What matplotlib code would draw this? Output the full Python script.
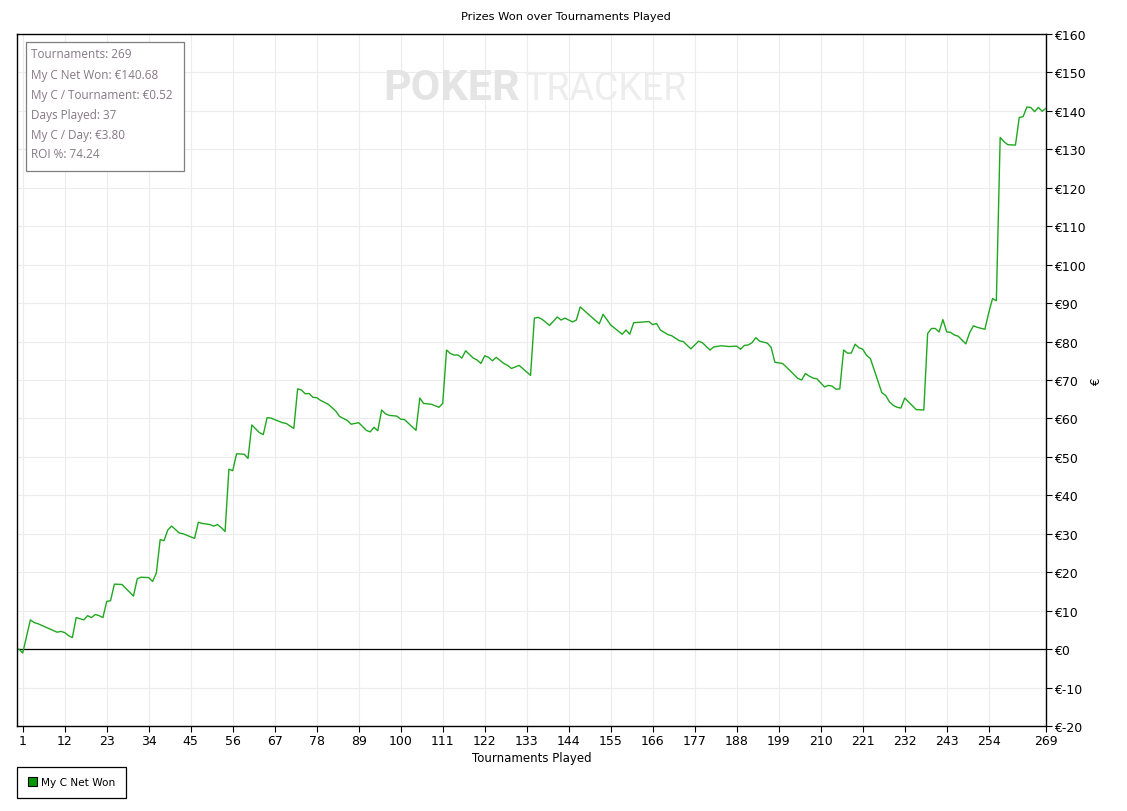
import numpy as np
import matplotlib
matplotlib.use("Agg")
import matplotlib.pyplot as plt
from matplotlib.patches import Rectangle, Patch

# tournament number / cumulative net won (EUR)
tourney = [0, 1, 3, 4, 5, 10, 11, 12, 13, 14, 15, 16, 17, 18, 19, 20, 21, 22, 23, 24,
           25, 27, 30, 31, 32, 34, 35, 36, 37, 38, 39, 40, 42, 43, 46, 47, 48, 50, 51, 52,
           53, 54, 55, 56, 57, 59, 60, 61, 63, 64, 65, 66, 69, 70, 72, 73, 74, 75, 76, 77,
           78, 79, 81, 83, 84, 86, 87, 89, 90, 91, 92, 93, 94, 95, 96, 97, 99, 100, 101, 104,
           105, 106, 108, 110, 111, 112, 113, 114, 115, 116, 117, 119, 120, 121, 122, 123, 124, 125, 127, 128,
           129, 131, 134, 135, 136, 137, 139, 141, 142, 143, 145, 146, 147, 152, 153, 155, 158, 159, 160, 161,
           165, 166, 167, 168, 170, 171, 173, 174, 176, 178, 179, 181, 182, 184, 186, 188, 189, 190, 191, 192,
           193, 194, 196, 197, 198, 200, 202, 204, 205, 206, 207, 208, 209, 211, 212, 213, 214, 215, 216, 217,
           218, 219, 220, 221, 222, 223, 226, 227, 228, 229, 230, 231, 232, 235, 237, 238, 239, 240, 241, 242,
           243, 244, 245, 246, 248, 249, 250, 251, 253, 254, 255, 256, 257, 258, 259, 261, 262, 263, 264, 265,
           266, 267, 268, 269]
net_won = [0.0, -1.0, 7.6, 6.9, 6.6, 4.4, 4.6, 4.3, 3.5, 3.0, 8.2, 7.9, 7.6, 8.7, 8.2, 9.0, 8.7, 8.2, 12.4, 12.6,
           16.9, 16.8, 13.8, 18.3, 18.7, 18.6, 17.6, 19.8, 28.5, 28.2, 31.0, 32.0, 30.2, 30.0, 28.8, 33.0, 32.7, 32.4, 32.0, 32.4,
           31.6, 30.6, 46.8, 46.4, 50.8, 50.7, 49.6, 58.3, 56.3, 55.8, 60.2, 60.1, 58.9, 58.7, 57.4, 67.7, 67.4, 66.4, 66.5, 65.5,
           65.4, 64.7, 63.7, 61.9, 60.5, 59.5, 58.5, 58.9, 57.9, 56.9, 56.5, 57.7, 56.8, 62.2, 61.2, 60.8, 60.6, 59.8, 59.7, 56.9,
           65.3, 63.9, 63.7, 62.9, 63.9, 77.8, 76.9, 76.5, 76.5, 75.7, 77.6, 75.7, 75.2, 74.3, 76.3, 75.9, 75.0, 75.9, 74.3, 73.8,
           73.0, 73.8, 71.2, 86.1, 86.3, 85.8, 84.2, 86.4, 85.6, 86.1, 85.1, 85.6, 89.0, 84.6, 87.1, 84.3, 81.9, 83.0, 81.9, 84.9,
           85.2, 84.4, 84.7, 83.0, 81.8, 81.5, 80.2, 80.0, 78.1, 80.1, 79.7, 77.8, 78.6, 78.9, 78.7, 78.8, 78.0, 79.0, 79.1, 79.7,
           81.0, 80.1, 79.6, 78.5, 74.6, 74.3, 72.4, 70.4, 70.0, 71.7, 71.0, 70.5, 70.3, 68.2, 68.6, 68.4, 67.6, 67.7, 77.8, 77.0,
           77.0, 79.3, 78.4, 78.0, 76.4, 75.6, 66.7, 66.0, 64.3, 63.4, 62.9, 62.7, 65.3, 62.3, 62.2, 82.1, 83.4, 83.4, 82.5, 85.7,
           82.5, 82.4, 81.7, 81.4, 79.4, 82.3, 84.1, 83.7, 83.2, 87.5, 91.2, 90.6, 133.1, 132.0, 131.2, 131.1, 138.3, 138.5, 141.0, 140.9,
           139.8, 140.9, 139.9, 140.68]

x_ticks = [1, 12, 23, 34, 45, 56, 67, 78, 89, 100, 111, 122, 133, 144, 155, 166, 177, 188, 199,
           210, 221, 232, 243, 254, 269]
y_ticks = list(range(-20, 161, 10))

stats_lines = ["Tournaments: 269", "My C Net Won: \u20ac140.68", "My C / Tournament: \u20ac0.52",
               "Days Played: 37", "My C / Day: \u20ac3.80", "ROI %: 74.24"]

W, H = 1127, 812
def fx(px):
    return px / W
def fy(py):
    return 1 - py / H

fig = plt.figure(figsize=(W / 100, H / 100), dpi=100)
ax = fig.add_axes([fx(17), fy(727), fx(1046) - fx(17), fy(35) - fy(727)])

ax.plot(tourney, net_won, color='#1fa81f', lw=1.0, zorder=3)
ax.axhline(0, color='black', lw=0.9, zorder=2)

ax.set_xlim(-0.5, 269)
ax.set_ylim(-20, 160)
ax.set_xticks(x_ticks)
ax.set_yticks(y_ticks)
ax.set_yticklabels(["\u20ac%d" % v for v in y_ticks])
ax.yaxis.tick_right()
ax.yaxis.set_label_position('right')
ax.tick_params(axis='both', direction='out', length=4, width=0.8, labelsize=9, pad=2)
ax.grid(True, color='#ececec', lw=0.8, zorder=0)
ax.set_axisbelow(True)
for s in ax.spines.values():
    s.set_color('black')
    s.set_linewidth(1.0)

ax.set_xlabel("Tournaments Played", fontsize=8.5, labelpad=3)
ax.set_ylabel("\u20ac", fontsize=8.5, labelpad=3, rotation=90)
fig.text(fx(566), fy(17), "Prizes Won over Tournaments Played", fontsize=8.2,
         ha='center', va='center')

# faint watermark
fig.text(fx(383), fy(100), "POKER", fontsize=31, fontweight='bold', color='#e4e4e4',
         family=['Roboto', 'DejaVu Sans'], ha='left', va='baseline', zorder=0.5)
fig.text(fx(524), fy(100), "TRACKER", fontsize=27, color='#ededed',
         family=['Roboto', 'DejaVu Sans'], ha='left', va='baseline', zorder=0.5)

# stats box
box = Rectangle((fx(26), fy(172)), fx(184) - fx(26), fy(43) - fy(172), transform=fig.transFigure,
                facecolor='white', edgecolor='#7f7f7f', lw=0.9, zorder=2)
fig.add_artist(box)
for i, line in enumerate(stats_lines):
    fig.text(fx(31), fy(55 + 20 * i), line, fontsize=8.5, color='#857885',
             family=['Open Sans', 'DejaVu Sans'], ha='left', va='center', zorder=3)

leg = fig.legend(handles=[Patch(facecolor='#009900', edgecolor='black', lw=0.8, label='My C Net Won')],
                 loc='lower left', bbox_to_anchor=(fx(17), fy(799)), fontsize=7.6,
                 fancybox=False, framealpha=1, edgecolor='black', handlelength=0.9,
                 handleheight=0.9, handletextpad=0.35, borderpad=1.0, borderaxespad=0)
leg.get_frame().set_linewidth(0.9)

fig.savefig("out.png", dpi=100)
